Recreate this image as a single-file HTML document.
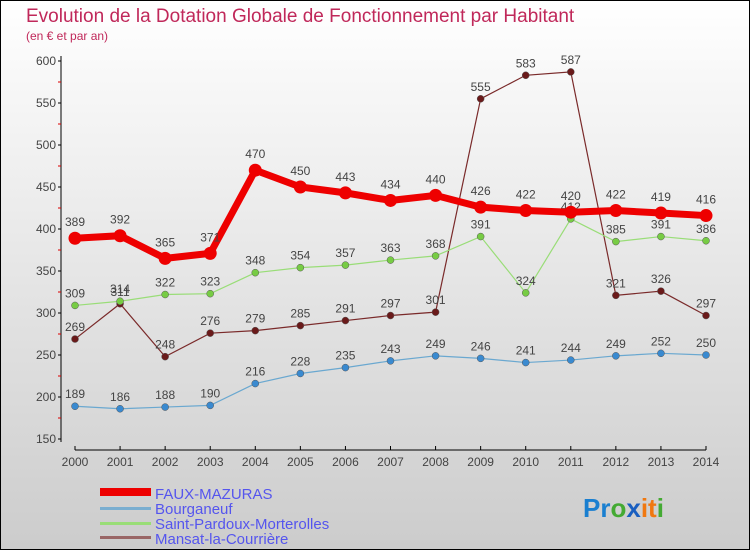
<!DOCTYPE html>
<html><head><meta charset="utf-8"><style>
body{margin:0;}
#c{position:relative;width:750px;height:550px;box-sizing:border-box;border:1px solid #000;background:linear-gradient(#fff,#ccc);font-family:"Liberation Sans",sans-serif;overflow:hidden}
</style></head><body>
<div id="c">
<svg id="s" width="750" height="550" style="position:absolute;left:-1px;top:-1px">
<text x="26" y="22" font-size="19" fill="#c0285a">Evolution de la Dotation Globale de Fonctionnement par Habitant</text>
<text x="26" y="40" font-size="12" fill="#c0285a">(en € et par an)</text>
<g id="axes"></g><g id="series"></g>
<g font-size="15" fill="#5555ee">
<rect x="100" y="488" width="51" height="8" fill="#e00"/>
<text x="155" y="499">FAUX-MAZURAS</text>
<rect x="100" y="507" width="51" height="3" fill="#7aaed0"/>
<text x="155" y="514">Bourganeuf</text>
<rect x="100" y="522" width="51" height="3" fill="#99dd77"/>
<text x="155" y="529">Saint-Pardoux-Morterolles</text>
<rect x="100" y="536" width="51" height="3" fill="#996666"/>
<text x="155" y="544">Mansat-la-Courrière</text>
</g>
<text x="583" y="517" font-size="26" font-weight="bold"><tspan fill="#1a7fd0">Pr</tspan><tspan fill="#44aa33">o</tspan><tspan fill="#1a5fc0">x</tspan><tspan fill="#f07810">it</tspan><tspan fill="#44aa33">i</tspan></text>
</svg></div>
<script>
const years=[2000,2001,2002,2003,2004,2005,2006,2007,2008,2009,2010,2011,2012,2013,2014];
const yTicks=[150,200,250,300,350,400,450,500,550,600];
const faux=[389,392,365,371,470,450,443,434,440,426,422,420,422,419,416];
const bourg=[189,186,188,190,216,228,235,243,249,246,241,244,249,252,250];
const stp=[309,314,322,323,348,354,357,363,368,391,324,412,385,391,386];
const mansat=[269,311,248,276,279,285,291,297,301,555,583,587,321,326,297];
const NS='http://www.w3.org/2000/svg';
const x=i=>75+i*(706-75)/(years.length-1);
const y=v=>61+(600-v)*(439-61)/450;
function mk(t,a,p){const e=document.createElementNS(NS,t);for(const k in a)e.setAttribute(k,a[k]);p.appendChild(e);return e;}
const ax=document.getElementById('axes');
let e=mk('line',{x1:61,y1:56,x2:61,y2:442,stroke:'#000','stroke-width':1},ax);

e=mk('line',{x1:75,y1:450,x2:706,y2:450,stroke:'#000','stroke-width':1},ax);

yTicks.forEach(v=>{
 mk('line',{x1:58,y1:y(v),x2:61,y2:y(v),stroke:'#000'},ax);
 if(v<600)mk('line',{x1:58,y1:y(v+25),x2:61,y2:y(v+25),stroke:'#d00'},ax);
 const t=mk('text',{x:56,y:y(v)+4,'text-anchor':'end','font-size':12,fill:'#444'},ax);t.textContent=v;
 
});
years.forEach((yr,i)=>{
 mk('line',{x1:x(i),y1:446,x2:x(i),y2:450,stroke:'#000'},ax);
 const t=mk('text',{x:x(i),y:466,'text-anchor':'middle','font-size':12,fill:'#444'},ax);t.textContent=yr;
 
});
const sg=document.getElementById('series');
function draw(data,name,col,dot,w,r,lab){
 const g=mk('g',{},sg);
 
 const p=mk('polyline',{points:data.map((v,i)=>x(i)+','+y(v)).join(' '),fill:'none',stroke:col,'stroke-width':w},g);
 
 data.forEach((v,i)=>{
  const c=mk('circle',{cx:x(i),cy:y(v),r:r,fill:dot,stroke:w>3?'none':'#555','stroke-width':0.5},g);
  
  const t=mk('text',{x:x(i),y:y(v)+lab,'text-anchor':'middle','font-size':12,fill:'#444'},g);t.textContent=v;
  
 });
}
draw(mansat,'mansat','#7a2a2a','#6a1a1a',1.2,3.5,-8);
draw(stp,'saint-pardoux','#99dd77','#77cc44',1.2,3.5,-8);
draw(bourg,'bourganeuf','#6aa8d0','#3a8ad0',1.2,3.5,-8);
draw(faux,'faux-mazuras','#ee0000','#ee0000',7,6.5,-12);
</script></body></html>
